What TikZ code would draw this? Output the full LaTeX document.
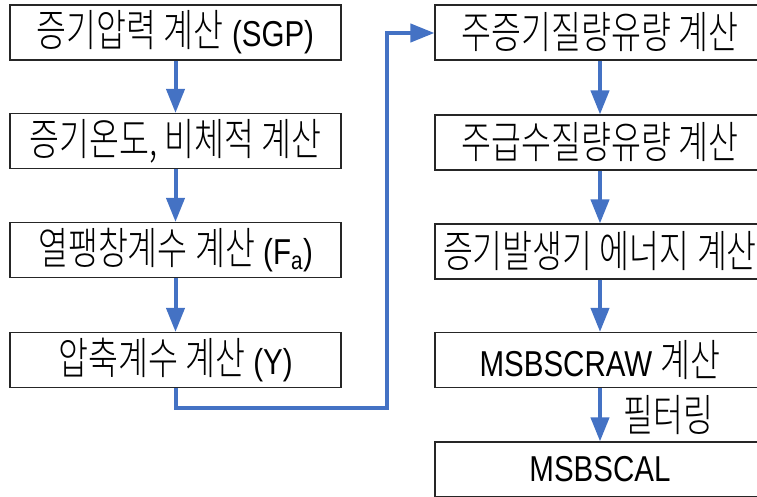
\documentclass[tikz,border=0pt]{standalone}
\usepackage{fontspec}
\setmainfont[FakeStretch=0.82]{Liberation Sans}
\newfontfamily\kr[FakeStretch=0.74]{Noto Sans CJK KR Light}
\newcommand\K[1]{{\kr\fontsize{44}{48}\selectfont #1}}
\usetikzlibrary{arrows.meta}
\definecolor{flowblue}{HTML}{4472C4}
\begin{document}
\begin{tikzpicture}[x=1pt,y=-1pt,
  box/.style={draw=black!85, line width=1.1pt, minimum height=55pt, inner sep=0pt,
    font=\fontsize{36}{40}\selectfont},
  lbox/.style={box, minimum width=331pt},
  rbox/.style={box, minimum width=330pt},
  flow/.style={draw=flowblue, line width=4pt, -{Triangle[length=24pt,width=18pt]}},
]
\useasboundingbox (0,0) rectangle (757,497);
\clip (0,0) rectangle (757,497);
\node[lbox] (l1) at (175.5,32.5) {\K{증기압력 계산} (SGP)};
\node[lbox] (l2) at (175.5,141) {\K{증기온도, 비체적 계산}};
\node[lbox] (l3) at (175.5,250) {\K{열팽창계수 계산} (F\textsubscript{a})};
\node[lbox] (l4) at (175.5,360) {\K{압축계수 계산} (Y)};
\node[rbox] (r1) at (600,32.5) {\K{주증기질량유량 계산}};
\node[rbox] (r2) at (600,142.5) {\K{주급수질량유량 계산}};
\node[rbox] (r3) at (600,251.5) {\K{증기발생기 에너지 계산}};
\node[rbox] (r4) at (600,360) {MSBSCRAW \K{계산}};
\node[rbox] (r5) at (600,469.5) {MSBSCAL};
\draw[flow] (l1) -- (l2);
\draw[flow] (l2) -- (l3);
\draw[flow] (l3) -- (l4);
\draw[flow] (r1) -- (r2);
\draw[flow] (r2) -- (r3);
\draw[flow] (r3) -- (r4);
\draw[flow] (r4) -- node[right=18pt] (flt) {\K{필터링}} (r5);
\coordinate (c1) at (175.5,408);
\coordinate (c2) at (387,408);
\coordinate (c3) at (387,33);
\draw[flow] (l4.south) -- (c1) -- (c2) -- (c3) -- (r1.west |- c3);
\end{tikzpicture}
\end{document}
